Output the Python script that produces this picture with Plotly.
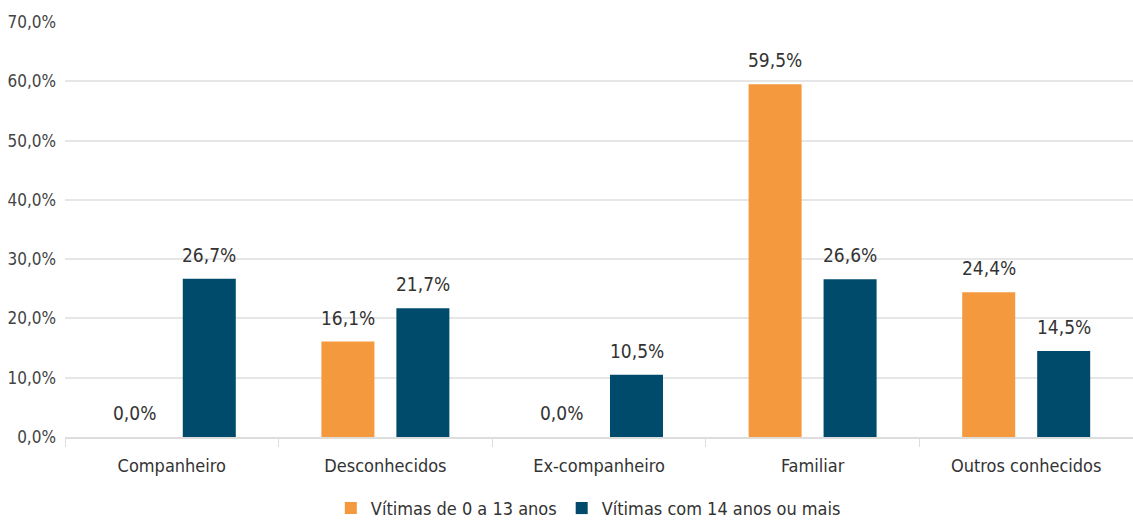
import plotly.graph_objects as go

categories = ["Companheiro", "Desconhecidos", "Ex-companheiro", "Familiar", "Outros conhecidos"]
series_names = ["Vítimas de 0 a 13 anos", "Vítimas com 14 anos ou mais"]
vals_0_13 = [0.0, 16.1, 0.0, 59.5, 24.4]
vals_14_plus = [26.7, 21.7, 10.5, 26.6, 14.5]
y_ticks = [0, 10, 20, 30, 40, 50, 60, 70]
y_tick_labels = ["0,0%", "10,0%", "20,0%", "30,0%", "40,0%", "50,0%", "60,0%", "70,0%"]

FONT = "DejaVu Sans Condensed, sans-serif"
colors = ["#F5993E", "#004B6C"]
label_shift = [-37.5, 37.5]

fig = go.Figure()
for name, vals, col in zip(series_names, [vals_0_13, vals_14_plus], colors):
    fig.add_trace(go.Bar(
        x=categories, y=vals, name=name, marker=dict(color=col, line=dict(width=0)),
    ))

for vals, dx in zip([vals_0_13, vals_14_plus], label_shift):
    for cat, v in zip(categories, vals):
        fig.add_annotation(
            x=cat, y=v, xref="x", yref="y", text=f"{v:.1f}%".replace(".", ","),
            showarrow=False, xshift=dx, yshift=11, yanchor="bottom",
            font=dict(family=FONT, size=19, color="#333333"),
        )

fig.update_layout(
    width=1133, height=522,
    margin=dict(l=65, r=0, t=22, b=85, autoexpand=False),
    paper_bgcolor="white", plot_bgcolor="white",
    barmode="group", bargap=0.298, bargroupgap=0.293,
    separators=",.",
    font=dict(family=FONT, size=17, color="#444444"),
    legend=dict(orientation="h", x=0.49, xanchor="center", y=-0.172, yanchor="middle",
                font=dict(family=FONT, size=18, color="#333333"),
                traceorder="normal"),
    xaxis=dict(showgrid=False, showline=True, linecolor="#dddddd", linewidth=2,
               ticks="outside", tickson="boundaries", ticklen=8, tickcolor="#dddddd",
               automargin=False, ticklabelstandoff=11,
               tickfont=dict(family=FONT, size=18, color="#333333")),
    yaxis=dict(range=[0, 70], tickvals=y_ticks, ticktext=y_tick_labels,
               showgrid=True, gridcolor="#e6e6e6", gridwidth=2, zeroline=False,
               showline=False, ticks="", ticklabelstandoff=8, automargin=False,
               tickfont=dict(family=FONT, size=17, color="#444444")),
)

fig.write_html("out.html", config={"displayModeBar": False},
               post_script="document.body.style.margin='0';")
